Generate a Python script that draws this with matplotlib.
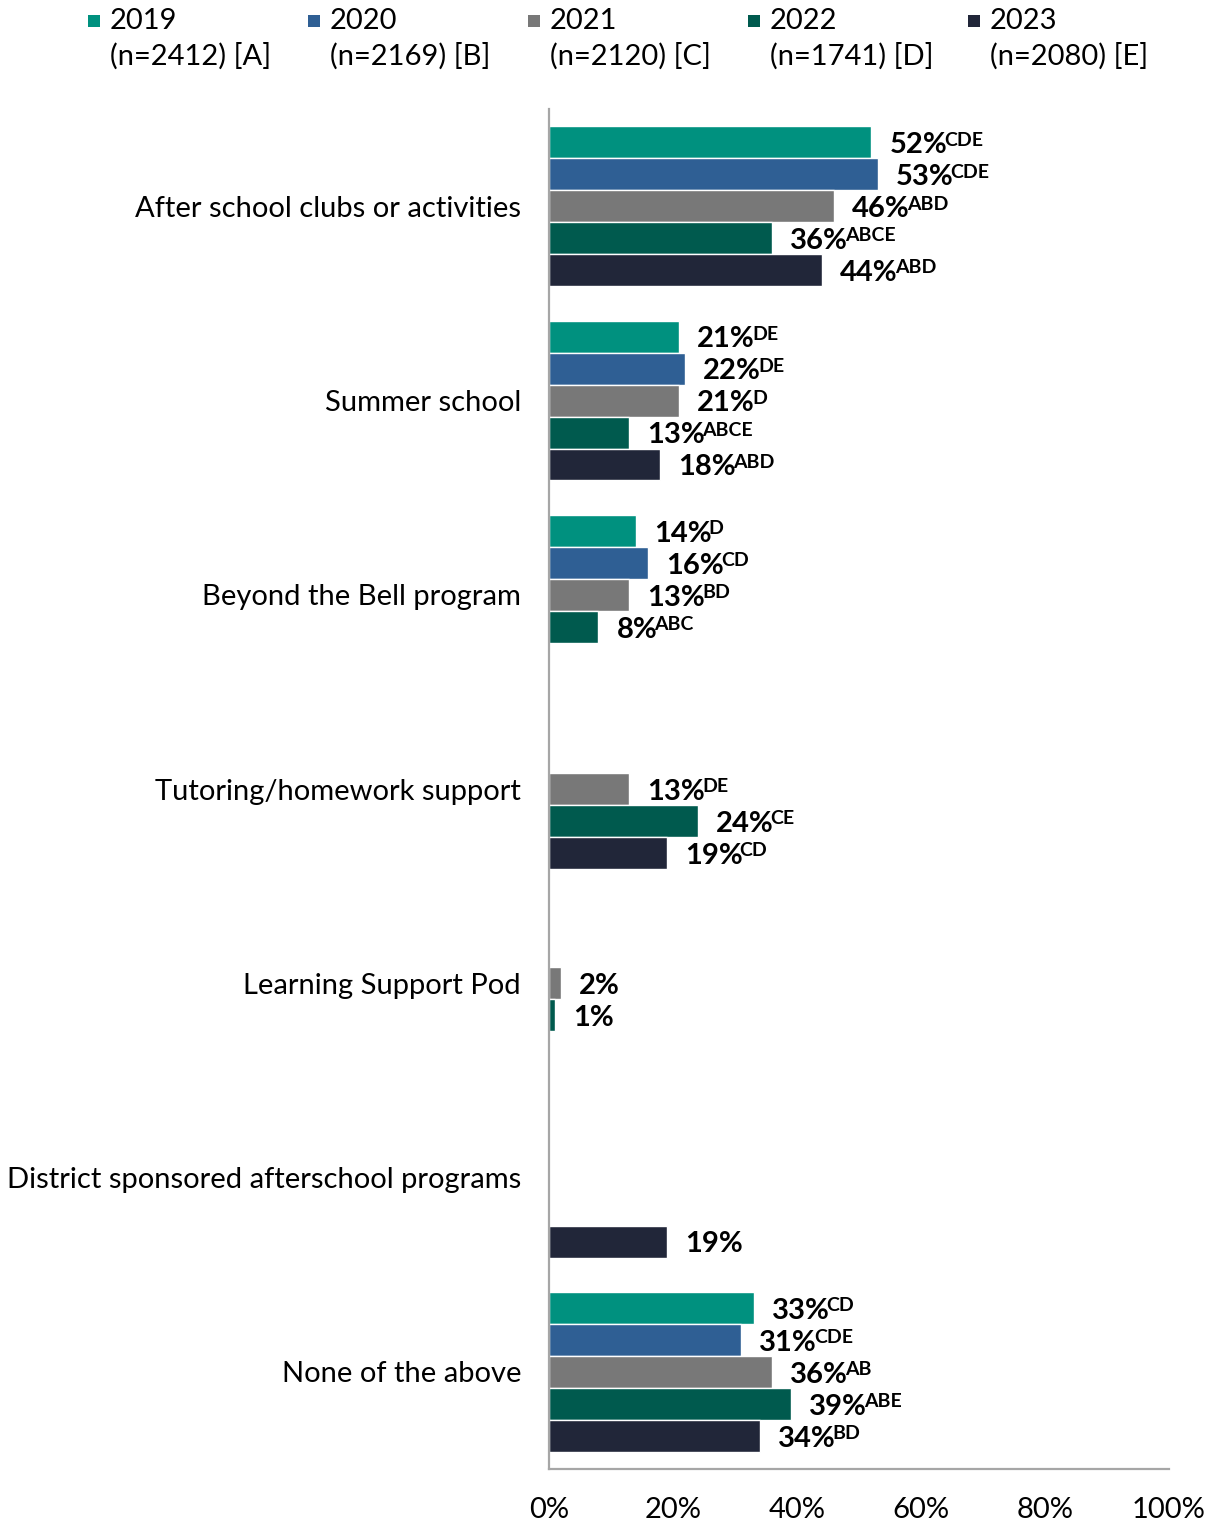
import numpy as np
import matplotlib.pyplot as plt
from matplotlib.patches import Rectangle

plt.rcParams['font.family'] = ['Lato', 'DejaVu Sans']

categories = ['After school clubs or activities', 'Summer school', 'Beyond the Bell program',
              'Tutoring/homework support', 'Learning Support Pod',
              'District sponsored afterschool programs', 'None of the above']

series_names = ['2019', '2020', '2021', '2022', '2023']
series_n = ['(n=2412) [A]', '(n=2169) [B]', '(n=2120) [C]', '(n=1741) [D]', '(n=2080) [E]']
colors = ['#00917F', '#2F5F94', '#787878', '#005A4E', '#212639']

# None = not asked that year
vals_2019 = [52, 21, 14, None, None, None, 33]
vals_2020 = [53, 22, 16, None, None, None, 31]
vals_2021 = [46, 21, 13, 13, 2, None, 36]
vals_2022 = [36, 13, 8, 24, 1, None, 39]
vals_2023 = [44, 18, None, 19, None, 19, 34]

sig_2019 = ['CDE', 'DE', 'D', '', '', '', 'CD']
sig_2020 = ['CDE', 'DE', 'CD', '', '', '', 'CDE']
sig_2021 = ['ABD', 'D', 'BD', 'DE', '', '', 'AB']
sig_2022 = ['ABCE', 'ABCE', 'ABC', 'CE', '', '', 'ABE']
sig_2023 = ['ABD', 'ABD', '', 'CD', '', '', 'BD']

all_vals = [vals_2019, vals_2020, vals_2021, vals_2022, vals_2023]
all_sigs = [sig_2019, sig_2020, sig_2021, sig_2022, sig_2023]

fig = plt.figure(figsize=(12.17, 15.22), dpi=100)
ax = fig.add_axes([0.451, 0.0348, 0.5096, 0.8935])

y = np.arange(len(categories))
step = 0.1646

for i in range(5):
    offs = (i - 2) * step
    for j in range(len(categories)):
        v = all_vals[i][j]
        if v is None:
            continue
        ax.barh(y[j] + offs, v, height=step, color=colors[i], edgecolor='white', linewidth=1)
        t = ax.annotate(str(v) + '%', xy=(v, y[j] + offs), xytext=(13, -2), textcoords='offset points',
                        ha='left', va='center', fontsize=21, fontweight='bold', color='black')
        if all_sigs[i][j]:
            ax.annotate(all_sigs[i][j], xy=(1.0, 1.02), xycoords=t, xytext=(-2, 0),
                        textcoords='offset points', ha='left', va='top',
                        fontsize=14, fontweight='bold', color='black')

ax.set_xlim(0, 100)
ax.set_ylim(len(categories) - 0.5, -0.5)
ax.set_yticks(y)
ax.set_yticklabels(categories, fontsize=21)
ax.set_xticks([0, 20, 40, 60, 80, 100])
ax.set_xticklabels(['0%', '20%', '40%', '60%', '80%', '100%'], fontsize=21)
ax.tick_params(axis='y', length=0, pad=20)
ax.tick_params(axis='x', length=0, pad=20)

for s in ['top', 'right']:
    ax.spines[s].set_visible(False)
for s in ['left', 'bottom']:
    ax.spines[s].set_color('#A6A6A6')
    ax.spines[s].set_linewidth(1.6)

# legend, drawn by hand so the square sits on the first line
for i in range(5):
    x0 = (88 + i * 220) / 1217
    fig.patches.append(Rectangle((x0, 1 - 27 / 1522), 12 / 1217, 12 / 1522, transform=fig.transFigure,
                                 facecolor=colors[i], edgecolor='none'))
    fig.text(x0 + 22 / 1217, 1 - 21 / 1522, series_names[i], fontsize=21, ha='left', va='center')
    fig.text(x0 + 22 / 1217, 1 - 56 / 1522, series_n[i], fontsize=21, ha='left', va='center')

fig.savefig('out.png', dpi=100)
